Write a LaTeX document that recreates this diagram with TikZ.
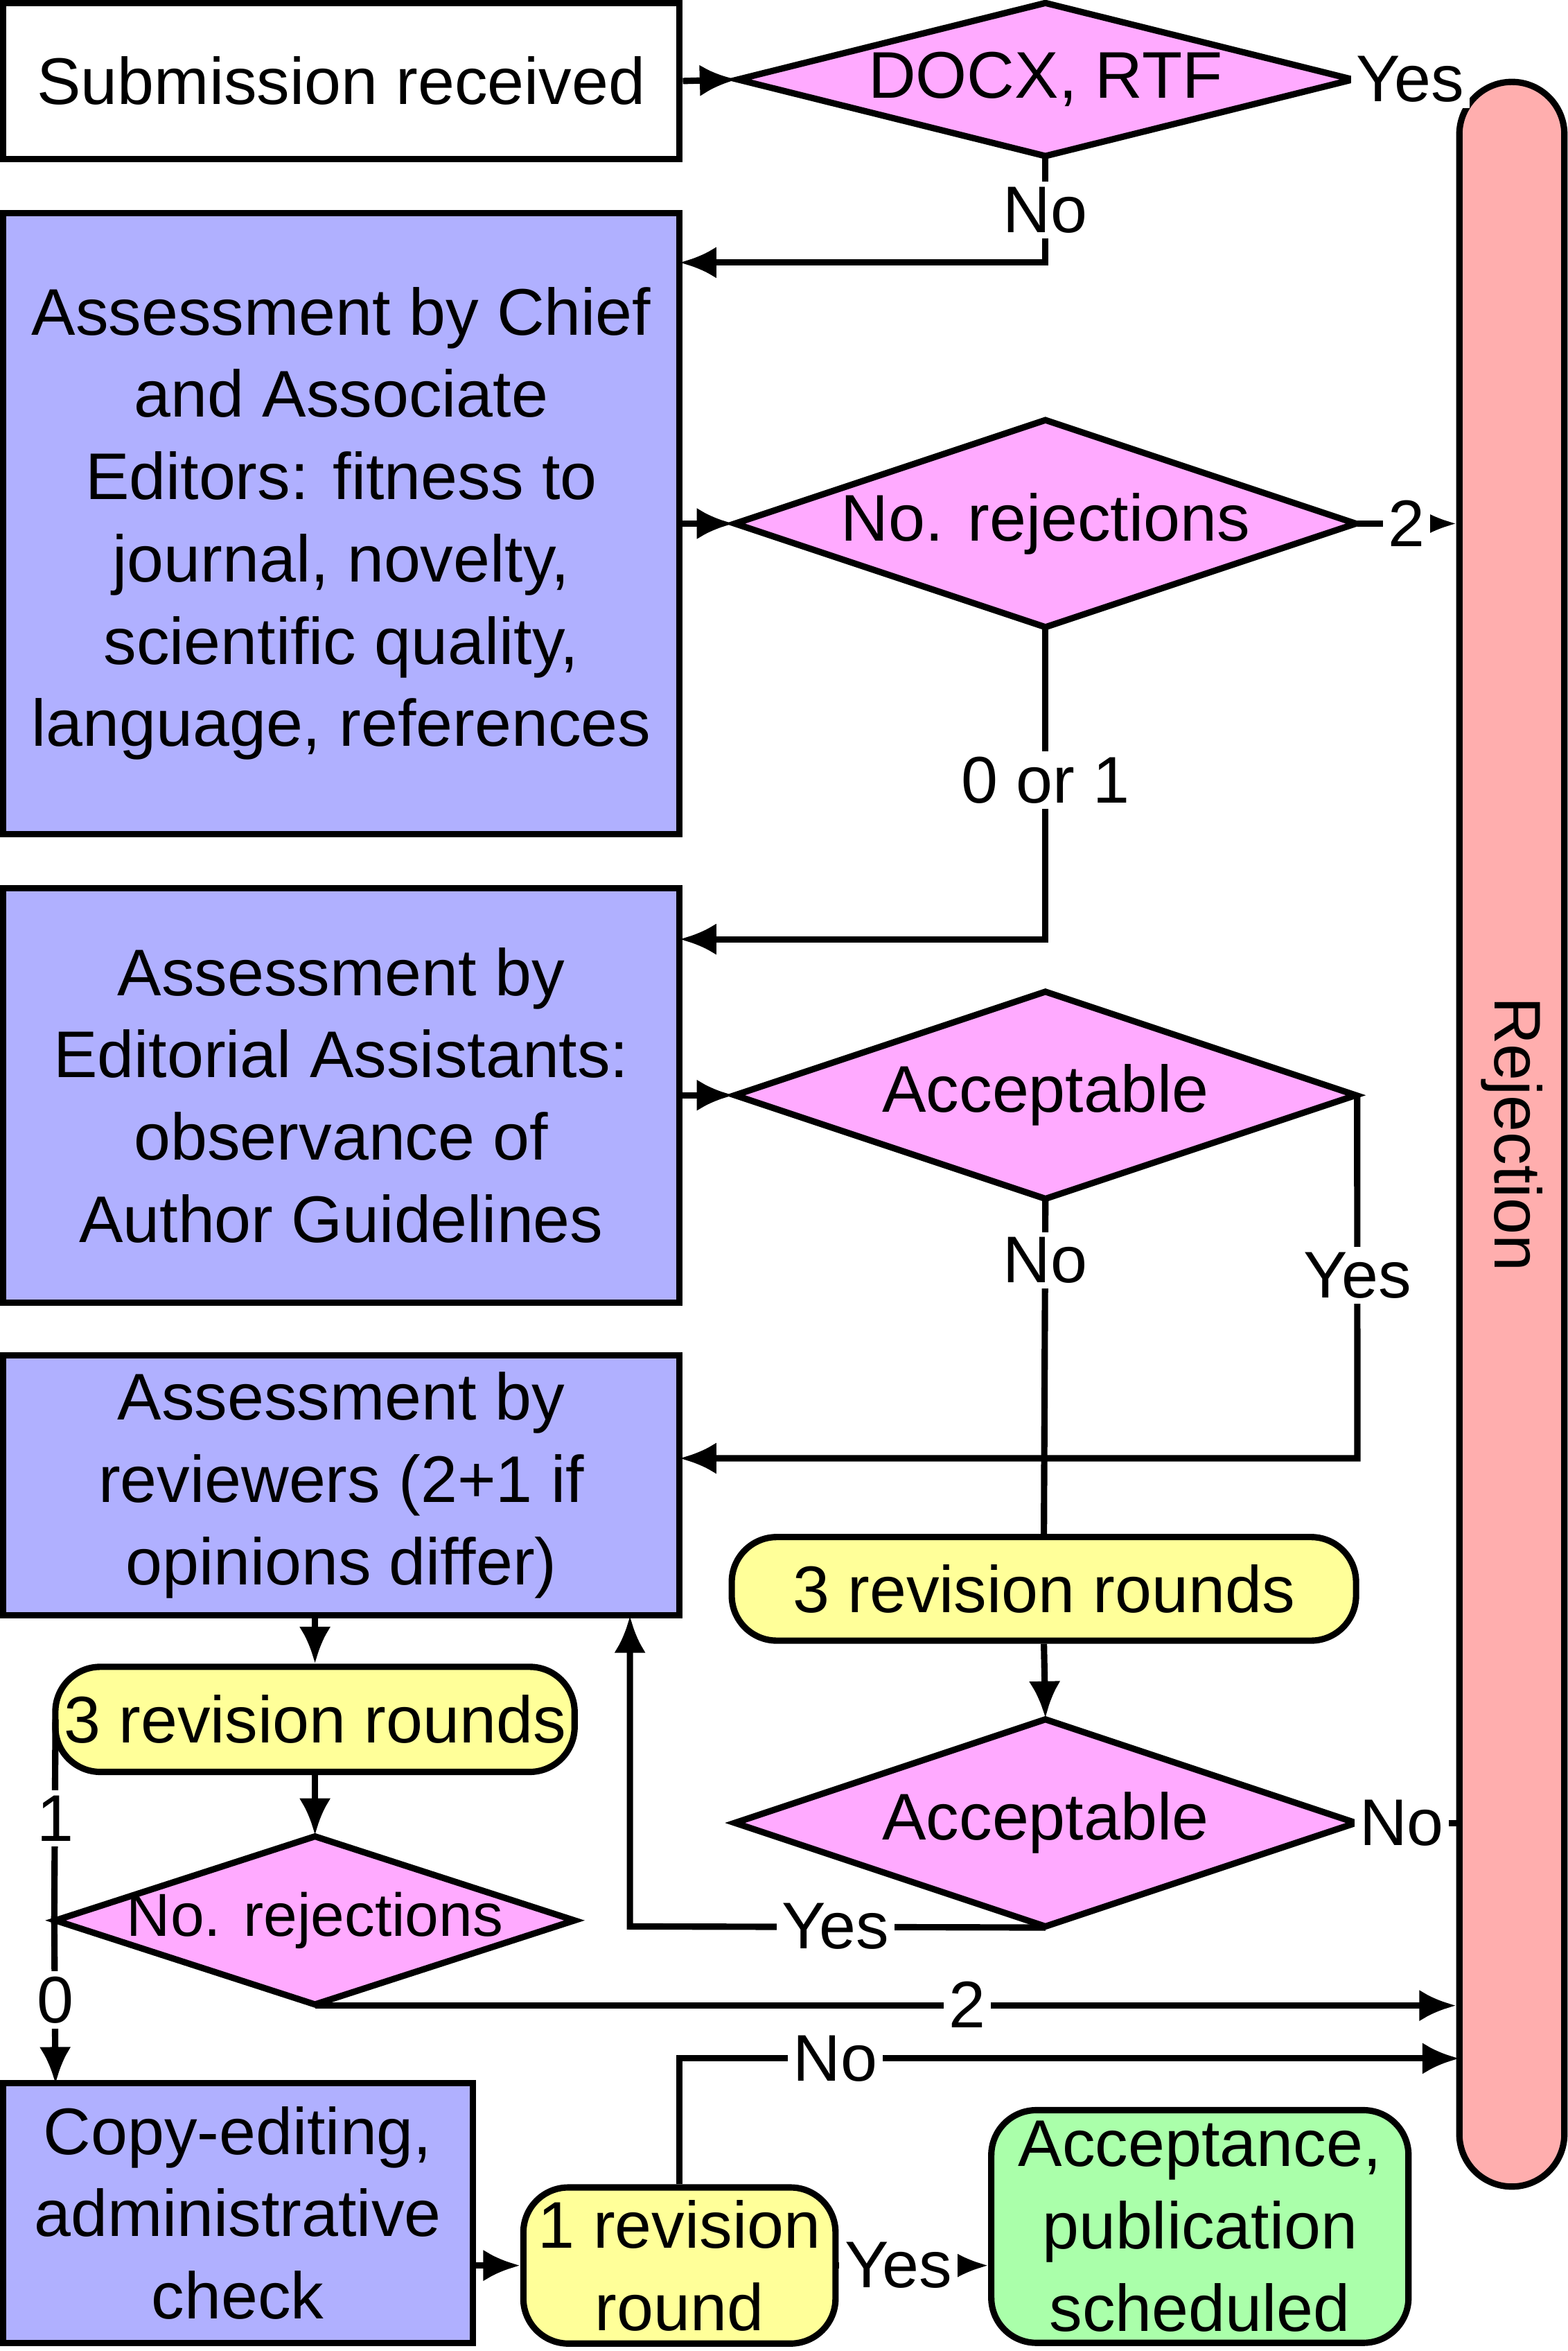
\documentclass[tikz,border=0pt]{standalone}
\usepackage{fontspec}
\setmainfont{Liberation Sans}
\usetikzlibrary{shapes.geometric,arrows.meta}
\newcommand\mydia[6]{%
  \fill[pink1] (#2-#4,#3) -- (#2,#3-#5) -- (#2+#4,#3) -- (#2,#3+#5) -- cycle;
  \draw[line width=1.2pt] (#2-#4,#3) -- (#2,#3-#5) -- (#2+#4,#3) -- (#2,#3+#5) -- cycle;
  \node[minimum width=#4*0.02cm, minimum height=#5*0.02cm] (#1) at (#2,#3) {#6};}
\begin{document}
\begin{tikzpicture}[x=0.01cm,y=-0.01cm,
 font=\fontsize{12.5}{15.6}\selectfont,
 every node/.style={inner sep=0pt, align=center},
 box/.style={draw, line width=1.2pt, fill=#1},
 rr/.style={rounded corners=0.3cm, draw, line width=1.2pt, fill=#1},
 ln/.style={line width=1.2pt},
 ar/.style={line width=1.2pt, -{Latex[length=7pt,width=6pt]}},
 lab/.style={fill=white, inner sep=1pt}]
\definecolor{blue1}{HTML}{B0B0FF}
\definecolor{pink1}{HTML}{FFAAFF}
\definecolor{red1}{HTML}{FFAEAE}
\definecolor{yel1}{HTML}{FFFF99}
\definecolor{grn1}{HTML}{AAFFAA}
\useasboundingbox (0,0) rectangle (1045,1567);
\node[box=white, minimum width=4.51cm, minimum height=1.04cm] (sub) at (227.5,54) {Submission received};
\mydia{d1}{697}{53}{205}{51}{DOCX, RTF}
\node[rr=red1, rounded corners=0.35cm, minimum width=0.70cm, minimum height=14.02cm] (rej) at (1008,756) {};
\node[rotate=-90] at (1008,756) {Rejection};
\node[box=blue1, minimum width=4.51cm, minimum height=4.14cm] (chief) at (227.5,349) {Assessment by Chief\\and Associate\\Editors: fitness to\\journal, novelty,\\scientific quality,\\language, references};
\mydia{d2}{697}{349}{207}{69}{No. rejections}
\node[box=blue1, minimum width=4.51cm, minimum height=2.76cm] (ea) at (227.5,730) {Assessment by\\Editorial Assistants:\\observance of\\Author Guidelines};
\mydia{d3}{697}{730}{207}{69}{Acceptable}
\node[box=blue1, minimum width=4.51cm, minimum height=1.73cm] (rev) at (227.5,990) {Assessment by\\reviewers (2+1 if\\opinions differ)};
\node[rr=yel1, minimum width=4.16cm, minimum height=0.69cm] (y1) at (696,1059) {3 revision rounds};
\mydia{d4}{697}{1215}{207}{69}{Acceptable}
\node[rr=yel1, minimum width=3.46cm, minimum height=0.70cm] (y2) at (210,1146) {3 revision rounds};
\mydia{d5}{210}{1280}{173}{56}{\fontsize{11.5}{12}\selectfont No. rejections}
\node[box=blue1, minimum width=3.13cm, minimum height=1.73cm] (copy) at (158.5,1475) {Copy-editing,\\administrative\\check};
\node[rr=yel1, minimum width=2.08cm, minimum height=1.04cm] (y3) at (453,1510) {1 revision\\round};
\node[rr=grn1, minimum width=2.78cm, minimum height=1.55cm] (acc) at (800,1484) {Acceptance,\\publication\\scheduled};

\draw[ar] (sub.east) -- (d1.west);
\draw[ar] (d1.east) -- node[lab,pos=0.55]{Yes} (d1.east -| rej.west);
\draw[ar] (d1.south) -- (697,175) -- (453,175);
\node[lab] at (697,140) {No};
\draw[ar] (chief.east |- d2.west) -- (d2.west);
\draw[ar] (d2.east) -- node[lab,pos=0.5]{2} (d2.east -| rej.west);
\draw[ar] (d2.south) -- (697,626) -- (453,626);
\node[lab] at (697,520) {0 or 1};
\draw[ar] (ea.east |- d3.west) -- (d3.west);
\draw[ar] (d3.east) -- (905,972) -- (453,972);
\node[lab] at (905,850) {Yes};
\draw[ln] (d3.south) -- (y1.north);
\node[lab] at (697,840) {No};
\draw[ar] (y1.south) -- (d4.north);
\draw[ln] (d4.east) -- node[lab,pos=0.45]{No} (d4.east -| rej.west);
\draw[ar] (d4.south) -- (420,1284) -- (420,1077);
\node[lab] at (557,1284) {Yes};
\draw[ar] (rev.south -| y2.north) -- (y2.north);
\draw[ar] (y2.south) -- (d5.north);
\draw[ln] (37,1146) -- (d5.west);
\node[lab] at (37,1212) {1};
\draw[ar] (d5.west) -- (37,1389);
\node[lab] at (37,1333) {0};
\draw[ar] (d5.south) -- (d5.south -| rej.west);
\node[lab] at (645,1336) {2};
\draw[ar] (y3.north) -- (453,1372) -- (973,1372);
\node[lab] at (557,1372) {No};
\draw[ar] (copy.east |- y3.west) -- (y3.west);
\draw[ar] (y3.east) -- node[lab,pos=0.4]{Yes} (acc.west |- y3.east);
\end{tikzpicture}
\end{document}
